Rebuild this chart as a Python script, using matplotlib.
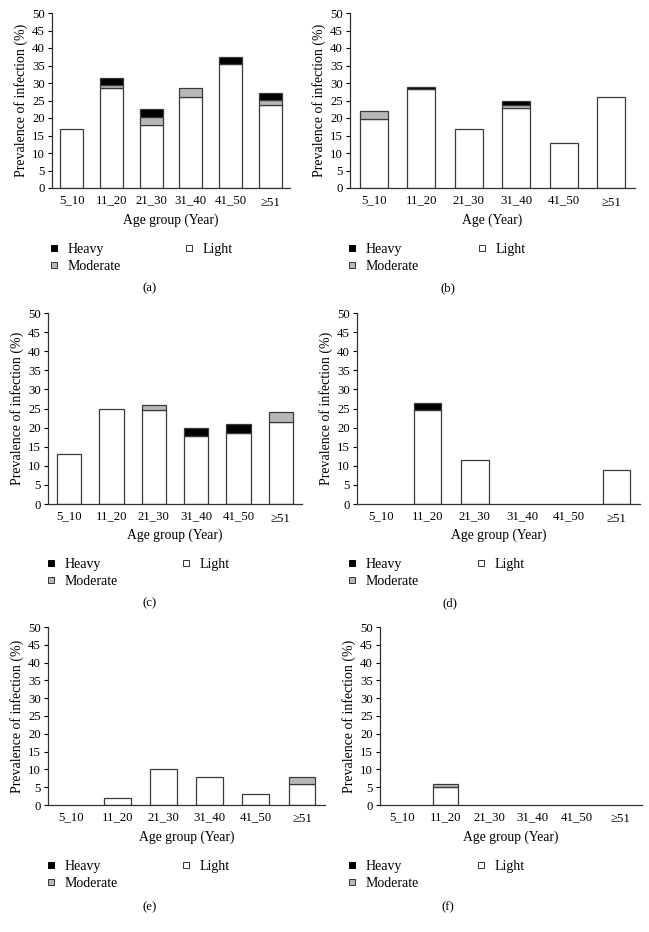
import matplotlib
matplotlib.use('Agg')
import matplotlib.pyplot as plt
import matplotlib.transforms as mtransforms
from matplotlib.lines import Line2D
import numpy as np

plt.rcParams['font.family'] = 'Liberation Serif'

categories = ['5_10', '11_20', '21_30', '31_40', '41_50', '≥51']

a_light = [17.0, 28.5, 18.0, 26.0, 35.3, 23.8]
a_moderate = [0, 1.0, 2.3, 2.5, 0, 1.4]
a_heavy = [0, 2.0, 2.4, 0, 2.2, 1.8]

b_light = [19.8, 28.3, 17.0, 22.8, 13.0, 26.0]
b_moderate = [2.2, 0, 0, 1.0, 0, 0]
b_heavy = [0, 0.7, 0, 1.2, 0, 0]

c_light = [13.0, 25.0, 24.7, 17.7, 18.5, 21.5]
c_moderate = [0, 0, 1.1, 0, 0, 2.5]
c_heavy = [0, 0, 0, 2.3, 2.5, 0]

d_light = [0, 24.5, 11.5, 0, 0, 9.0]
d_moderate = [0, 0, 0, 0, 0, 0]
d_heavy = [0, 2.0, 0, 0, 0, 0]

e_light = [0, 2.0, 10.0, 8.0, 3.0, 6.0]
e_moderate = [0, 0, 0, 0, 0, 2.0]
e_heavy = [0, 0, 0, 0, 0, 0]

f_light = [0, 5.0, 0, 0, 0, 0]
f_moderate = [0, 1.0, 0, 0, 0, 0]
f_heavy = [0, 0, 0, 0, 0, 0]

panel_labels = ['(a)', '(b)', '(c)', '(d)', '(e)', '(f)']
x_titles = ['Age group (Year)', 'Age (Year)', 'Age group (Year)',
            'Age group (Year)', 'Age group (Year)', 'Age group (Year)']
yticks = [0, 5, 10, 15, 20, 25, 30, 35, 40, 45, 50]

W, H = 649, 932
fig = plt.figure(figsize=(W / 100, H / 100), dpi=100)

# (left, right, top, bottom) in px; xlabel y, legend row y, panel label y, legend x positions, label x
layout = [
    (52, 290, 13, 188, 220, 250, 288, 53, 188, 150),
    (350, 635, 13, 188, 220, 250, 288, 351, 481, 448),
    (48, 302, 313, 504, 535, 565, 603, 50, 185, 150),
    (357, 640, 313, 504, 535, 565, 603, 351, 480, 450),
    (48, 325, 627, 805, 837, 867, 907, 50, 185, 150),
    (380, 642, 627, 805, 837, 867, 907, 351, 480, 448),
]

data = [
    (a_light, a_moderate, a_heavy),
    (b_light, b_moderate, b_heavy),
    (c_light, c_moderate, c_heavy),
    (d_light, d_moderate, d_heavy),
    (e_light, e_moderate, e_heavy),
    (f_light, f_moderate, f_heavy),
]

EDGE = '#3a3a3a'
MOD = '#b8b8b8'
FS = 9.2
width = 0.58

for (light, mod, heavy), lay, plab, xt in zip(data, layout, panel_labels, x_titles):
    l, r, t, b, xly, legy, laby, lx1, lx2, labx = lay
    ax = fig.add_axes([l / W, 1 - b / H, (r - l) / W, (b - t) / H])
    x = np.arange(len(categories))
    light = np.array(light, float)
    mod = np.array(mod, float)
    heavy = np.array(heavy, float)
    m = light > 0
    ax.bar(x[m], light[m], width, color='white', edgecolor=EDGE, linewidth=0.9)
    m = mod > 0
    ax.bar(x[m], mod[m], width, bottom=light[m], color=MOD, edgecolor=EDGE, linewidth=0.9)
    m = heavy > 0
    ax.bar(x[m], heavy[m], width, bottom=(light + mod)[m], color='black', edgecolor=EDGE, linewidth=0.9)
    ax.set_xlim(-0.5, 5.5)
    ax.set_ylim(0, 50)
    ax.set_yticks(yticks)
    ax.set_xticks([])
    # category labels, baseline-aligned just below the axis
    for xi, cat in zip(x, categories):
        dy = 17.5 if '≥' in cat else 15
        off = mtransforms.ScaledTranslation(0, -dy / 100, fig.dpi_scale_trans)
        ax.text(xi, 0, cat, transform=ax.get_xaxis_transform() + off,
                ha='center', va='baseline', fontsize=FS)
    ax.tick_params(axis='y', length=3, width=0.8, pad=2, labelsize=FS, direction='out')
    for s in ['top', 'right']:
        ax.spines[s].set_visible(False)
    for s in ['left', 'bottom']:
        ax.spines[s].set_linewidth(0.9)
        ax.spines[s].set_color('#333333')
    ax.set_ylabel('Prevalence of infection (%)', fontsize=FS + 0.8, labelpad=3)
    cx = (l + r) / 2
    fig.text(cx / W, 1 - xly / H, xt, ha='center', va='center', fontsize=FS + 0.6)
    fig.text(labx / W, 1 - laby / H, plab, ha='center', va='center', fontsize=FS)

    h_heavy = Line2D([], [], marker='s', color='none', markerfacecolor='black',
                     markeredgecolor='black', markersize=4, markeredgewidth=0.7)
    h_mod = Line2D([], [], marker='s', color='none', markerfacecolor=MOD,
                   markeredgecolor='#333333', markersize=4, markeredgewidth=0.7)
    h_light = Line2D([], [], marker='s', color='none', markerfacecolor='white',
                     markeredgecolor='#333333', markersize=4, markeredgewidth=0.7)
    top = legy - 7
    fig.legend([h_heavy, h_mod], ['Heavy', 'Moderate'], loc='upper left',
               bbox_to_anchor=((lx1 - 6) / W, 1 - top / H), frameon=False,
               fontsize=FS + 0.8, handlelength=1.0, handletextpad=0.5,
               borderpad=0, borderaxespad=0, labelspacing=0.3)
    fig.legend([h_light], ['Light'], loc='upper left',
               bbox_to_anchor=((lx2 - 6) / W, 1 - top / H), frameon=False,
               fontsize=FS + 0.8, handlelength=1.0, handletextpad=0.5,
               borderpad=0, borderaxespad=0, labelspacing=0.3)

fig.savefig('out.png', dpi=100)
